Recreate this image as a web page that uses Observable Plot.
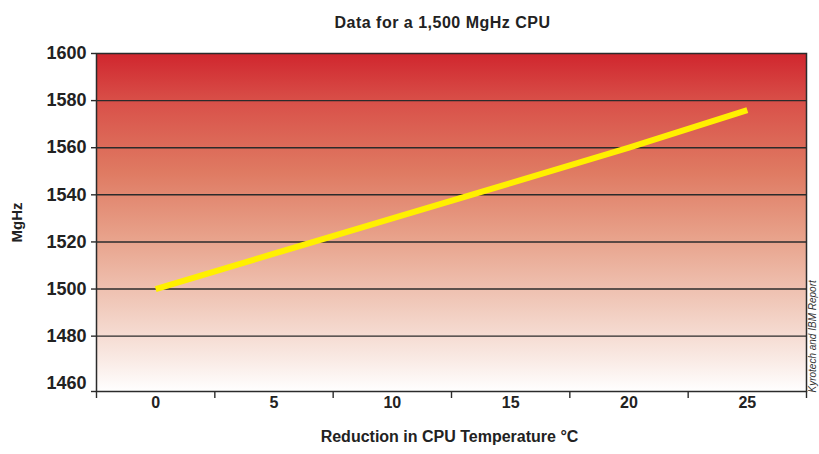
<!DOCTYPE html>
<html><head><meta charset="utf-8">
<script src="https://cdn.jsdelivr.net/npm/d3@7"></script>
<script src="https://cdn.jsdelivr.net/npm/@observablehq/plot@0.6"></script>
<style>body{margin:0;background:#fff} svg{display:block}</style>
</head><body><div id="chart"></div>
<script>
const title = "Data for a 1,500 MgHz CPU";
const xTitle = "Reduction in CPU Temperature °C";
const yTitle = "MgHz";
const source = "Kyrotech and IBM Report";
const temps = [0, 5, 10, 15, 20, 25];
const mhz = [1500, 1515, 1530, 1545, 1560, 1576];
const yTicks = [1460, 1480, 1500, 1520, 1540, 1560, 1580, 1600];
const gridTicks = [1480, 1500, 1520, 1540, 1560, 1580];
const xTickEdges = [-2.5, 2.5, 7.5, 12.5, 17.5, 22.5, 27.5];
const yMarkTicks = [1456.5, 1480, 1500, 1520, 1540, 1560, 1580, 1600];

const data = temps.map((t, i) => ({t, v: mhz[i]}));
const dark = "#2b2b2b";

const svg = Plot.plot({
  width: 819, height: 454,
  marginLeft: 96, marginRight: 13, marginTop: 53, marginBottom: 63,
  style: {fontFamily: "'Liberation Sans', Arial, sans-serif", background: "#fff", color: dark},
  x: {domain: [-2.5, 27.5]},
  y: {domain: [1456.5, 1600]},
  marks: [
    Plot.frame({fill: "url(#bg)"}),
    Plot.ruleY(gridTicks, {stroke: dark, strokeWidth: 1.4}),
    Plot.frame({stroke: dark, strokeWidth: 1.5}),
    Plot.axisY({ticks: yTicks, tickFormat: "d", tickSize: 0, tickPadding: 10, fontSize: 18, fontWeight: "bold", fill: "#222", label: null}),
    Plot.axisY({ticks: yMarkTicks, tickSize: 5, tickFormat: () => "", label: null, stroke: dark, strokeWidth: 1.4}),
    Plot.axisX({ticks: temps, tickFormat: "d", tickSize: 0, tickPadding: 5, fontSize: 16, fontWeight: "bold", fill: "#222", label: null}),
    Plot.axisX({ticks: xTickEdges, tickSize: 7, tickFormat: () => "", label: null, stroke: dark, strokeWidth: 1.4}),
    Plot.line(data, {x: "t", y: "v", stroke: "#fff000", strokeWidth: 6, strokeLinecap: "butt"}),
    Plot.text([title], {frameAnchor: "top", dy: -37, dx: -9, fontSize: 16, fontWeight: "bold", fill: "#222"}),
    Plot.text([xTitle], {frameAnchor: "bottom", dy: 50, dx: -2, fontSize: 16, fontWeight: "bold", fill: "#222"}),
    Plot.text([yTitle], {frameAnchor: "left", textAnchor: "middle", dx: -79, dy: 0, rotate: -90, fontSize: 15, fontWeight: "bold", fill: "#222"}),
    Plot.text([source], {frameAnchor: "bottom-right", dx: 9, dy: 1, rotate: -90, textAnchor: "start", fontSize: 10, fontStyle: "italic", fill: "#333"})
  ]
});

d3.select(svg).selectAll("text").filter(function() { return this.textContent === title; })
  .style("letter-spacing", "0.5px");

const defs = d3.select(svg).insert("defs", ":first-child");
const grad = defs.append("linearGradient").attr("id", "bg")
  .attr("x1", 0).attr("y1", 0).attr("x2", 0).attr("y2", 1);
[[0, "#d0262e"], [0.15, "#d9524a"], [0.35, "#df7a62"], [0.55, "#e8a38c"], [0.75, "#f1cbbd"], [0.9, "#f9e9e3"], [1, "#ffffff"]]
  .forEach(([o, c]) => grad.append("stop").attr("offset", o).attr("stop-color", c));

document.getElementById("chart").append(svg);
</script>
</body></html>
